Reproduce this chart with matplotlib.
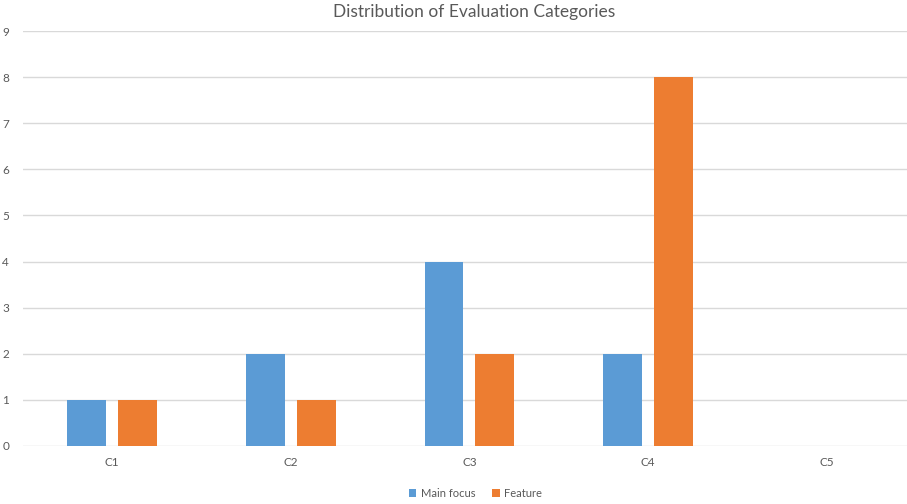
import matplotlib
matplotlib.use("Agg")
import matplotlib.pyplot as plt
import numpy as np

categories = ["C1", "C2", "C3", "C4", "C5"]
main_focus = [1, 2, 4, 2, 0]
feature = [1, 1, 2, 8, 0]
yticks = list(range(0, 10))

plt.rcParams['font.family'] = ['Lato', 'DejaVu Sans']
txt = '#595959'

fig = plt.figure(figsize=(9.07, 5.04), dpi=100)
ax = fig.add_axes([23/907, 58/504, 884/907, 415/504])

x = np.arange(len(categories))
w = 0.218
off = (w + 0.067) / 2
ax.bar(x - off, main_focus, w, color='#5B9BD5', label='Main focus', zorder=3)
ax.bar(x + off, feature, w, color='#ED7D31', label='Feature', zorder=3)

ax.set_xlim(-0.5, 4.45)
ax.set_ylim(0, 9)
ax.set_yticks(yticks)
ax.set_xticks(x)
ax.set_xticklabels(categories)
ax.grid(axis='y', color='#d9d9d9', linewidth=1, zorder=0)
for s in ax.spines.values():
    s.set_visible(False)
ax.tick_params(axis='both', length=0, colors=txt, labelsize=8.5)
ax.tick_params(axis='x', pad=8)
ax.tick_params(axis='y', pad=10)

fig.text(0.523, 0.993, "Distribution of Evaluation Categories", ha='center', va='top',
         fontsize=12.5, color=txt)
leg = fig.legend(loc='lower center', bbox_to_anchor=(0.524, -0.01), ncol=2, frameon=False,
                 fontsize=8, handlelength=0.7, handleheight=0.7, columnspacing=1.5, handletextpad=0.4)
for t in leg.get_texts():
    t.set_color(txt)

fig.savefig("out.png", dpi=100)
